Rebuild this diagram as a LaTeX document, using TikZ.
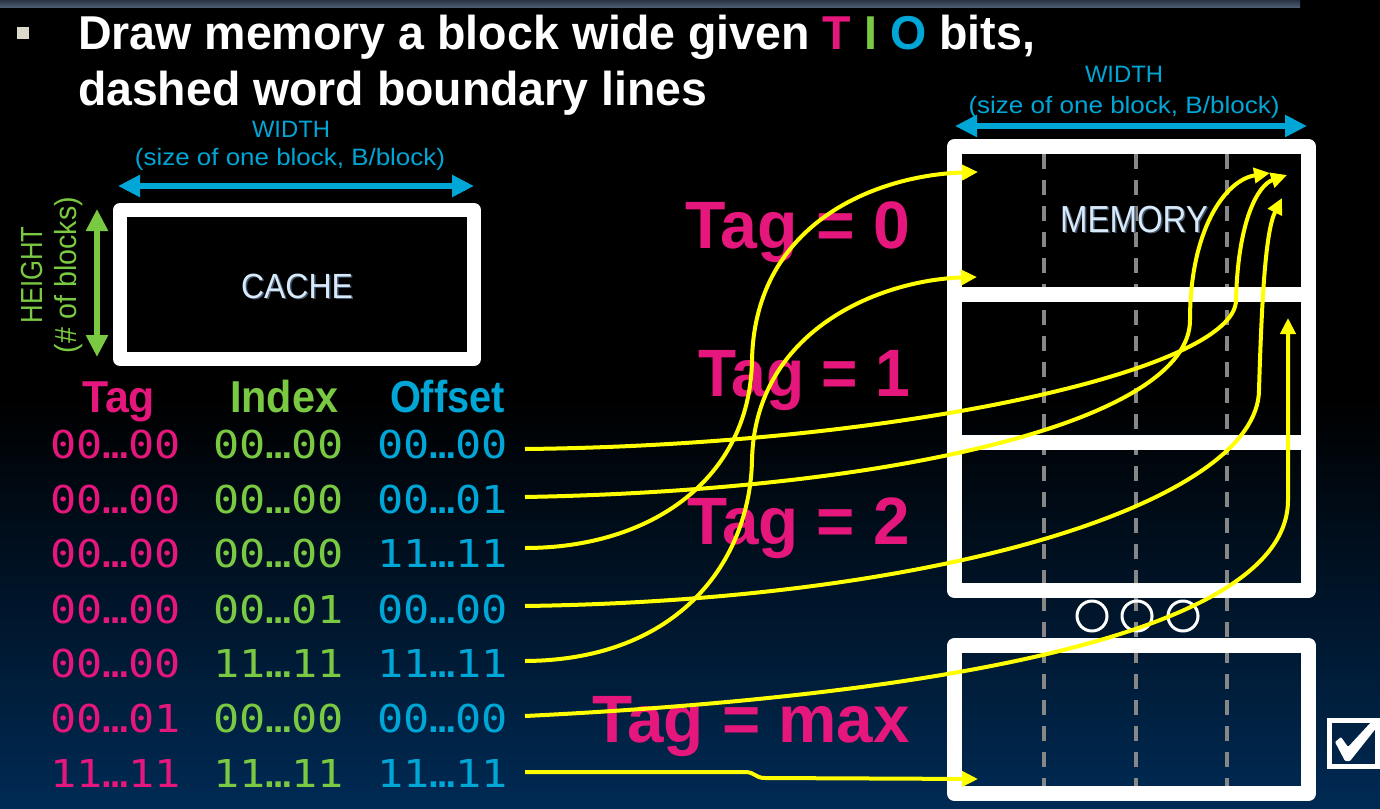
\documentclass[tikz,border=0pt]{standalone}
\usepackage{graphicx}
\usepackage{fontspec}
\setmainfont{Liberation Sans}
\newfontfamily\bitsfont{DejaVu Sans Mono}
\usetikzlibrary{arrows.meta}

\definecolor{tagpink}{RGB}{230,23,124}
\definecolor{idxgreen}{RGB}{122,201,67}
\definecolor{offcyan}{RGB}{0,166,214}
\definecolor{wire}{RGB}{255,255,0}
\definecolor{labelblue}{RGB}{214,234,252}
\definecolor{labelshadow}{RGB}{70,85,105}
\definecolor{navy}{RGB}{0,42,84}
\definecolor{dashgray}{RGB}{135,135,135}
\definecolor{bulletgray}{RGB}{221,216,204}
\definecolor{stripdark}{RGB}{40,50,66}
\definecolor{striplight}{RGB}{82,96,120}

% stretch a text to a given width (in pt), keeping its natural height
\newcommand\fitto[2]{\resizebox{#1pt}{\height}{#2}}
\newcommand\fs[1]{\fontsize{#1}{#1}\selectfont}

\tikzset{
  txt/.style={inner sep=0pt, outer sep=0pt},
  titletext/.style={txt, anchor=base west, text=white, font=\fs{47.5}\bfseries},
  dimlabel/.style={txt, anchor=base, text=offcyan, font=\fs{23.7}},
  hlabel/.style={txt, anchor=base, rotate=90, text=idxgreen, font=\fs{30.5}},
  fieldhead/.style={txt, anchor=base west, font=\fs{44.7}\bfseries},
  bits/.style={txt, anchor=base west, font=\bitsfont\fs{38.4}},
  tagname/.style={txt, anchor=base east, text=tagpink, font=\fs{67}\bfseries},
  boxlabel/.style={txt, anchor=base, text=labelblue},
  boxshadow/.style={txt, anchor=base, text=labelshadow},
  cachebox/.style={draw=white, line width=14pt, line join=round,
    minimum width=354pt, minimum height=149pt, inner sep=0pt},
  memblock/.style={draw=white, line width=15pt, line join=round,
    minimum width=354pt, minimum height=148pt, inner sep=0pt},
  wordline/.style={draw=dashgray, line width=3.5pt, dash pattern=on 15pt off 11pt},
  dimarrow/.style={draw=offcyan, line width=6pt,
    {Triangle[length=22pt,width=21pt]}-{Triangle[length=22pt,width=21pt]}},
  hgtarrow/.style={draw=idxgreen, line width=5.5pt,
    {Triangle[length=22pt,width=21pt]}-{Triangle[length=22pt,width=21pt]}},
  addr/.style={draw=wire, line width=4pt, -{Triangle[length=16pt,width=15pt]}},
  moredot/.style={circle, draw=white, line width=3pt, minimum size=30pt, inner sep=0pt},
}

\begin{document}
\begin{tikzpicture}[x=1pt, y=-1pt]
\useasboundingbox (0,0) rectangle (1380,808);

% background
\fill[black] (0,0) rectangle (1380,808);
\shade[top color=black, bottom color=navy] (0,400) rectangle (1380,808);
\shade[top color=stripdark, bottom color=striplight] (0,0) rectangle (1300,8);

% title
\node[fill=bulletgray, minimum size=12pt, inner sep=0pt] (bullet) at (23,33) {};
\node[titletext] (title1) at (78,50) {\fitto{957}{Draw memory a block wide given
  \textcolor{tagpink}{T} \textcolor{idxgreen}{I} \textcolor{offcyan}{O} bits,}};
\node[titletext] (title2) at (78,105) {\fitto{629}{dashed word boundary lines}};

% ---------------- cache ----------------
\node[dimlabel] (cwidth) at (291,137) {\fitto{78}{WIDTH}};
\node[dimlabel] (cwidthsub) at (290,165) {\fitto{310}{(size of one block, B/block)}};
\coordinate (cwl) at (118,186);
\coordinate (cwr) at (474,186);
\draw[dimarrow] (cwl) -- (cwr);

\node[hlabel] (height) at (42,275) {\fitto{97}{HEIGHT}};
\node[hlabel] (heightsub) at (76,275) {\fitto{156}{(\# of blocks)}};
\coordinate (cht) at (97,209);
\coordinate (chb) at (97,357);
\draw[hgtarrow] (cht) -- (chb);

\node[cachebox] (cache) at (297,284.5) {};
\node[boxshadow, font=\fs{35}] at (298.5,299.5) {\fitto{112}{CACHE}};
\node[boxlabel, font=\fs{35}] (cachelabel) at (297,298) {\fitto{112}{CACHE}};

% field headings
\node[fieldhead, text=tagpink] (htag) at (82,412) {\fitto{73}{Tag}};
\node[fieldhead, text=idxgreen] (hidx) at (230,412) {\fitto{108}{Index}};
\node[fieldhead, text=offcyan] (hoff) at (390,412) {\fitto{115}{Offset}};

% addresses
\foreach \i/\b/\t/\x/\o in {1/458/00…00/00…00/00…00,
                            2/513/00…00/00…00/00…01,
                            3/567/00…00/00…00/11…11,
                            4/623/00…00/00…01/00…00,
                            5/677/00…00/11…11/11…11,
                            6/732/00…01/00…00/00…00,
                            7/787/11…11/11…11/11…11}{
  \node[bits, text=tagpink] (t\i) at (50,\b) {\fitto{131}{\t}};
  \node[bits, text=idxgreen] (x\i) at (213,\b) {\fitto{131}{\x}};
  \node[bits, text=offcyan] (o\i) at (377,\b) {\fitto{131}{\o}};
}

% ---------------- memory ----------------
\node[dimlabel] (mwidth) at (1124,82) {\fitto{78}{WIDTH}};
\node[dimlabel] (mwidthsub) at (1124,113) {\fitto{311}{(size of one block, B/block)}};
\coordinate (mwl) at (955,126);
\coordinate (mwr) at (1307,126);
\draw[dimarrow] (mwl) -- (mwr);

% word boundaries
\foreach \wx in {1044,1136,1227}
  \draw[wordline] (\wx,154) -- (\wx,788);

\node[memblock] (memA) at (1131.5,220.5) {};
\node[memblock] (memB) at (1131.5,368.5) {};
\node[memblock] (memC) at (1131.5,516.5) {};
\node[memblock] (memD) at (1131.5,719.5) {};

\node[boxshadow, font=\fs{37.7}] at (1135.5,233.5) {\fitto{148}{MEMORY}};
\node[boxlabel, font=\fs{37.7}] (memlabel) at (1134,232) {\fitto{148}{MEMORY}};

\node[moredot] (dot1) at (1092,616) {};
\node[moredot] (dot2) at (1137,616) {};
\node[moredot] (dot3) at (1183,616) {};

% tag regions
\node[tagname] (tag0) at (910,248) {\fitto{225}{Tag = 0}};
\node[tagname] (tag1) at (910,396) {\fitto{212}{Tag = 1}};
\node[tagname] (tag2) at (910,544) {\fitto{223}{Tag = 2}};
\node[tagname] (tagmax) at (910,742) {\fitto{318}{Tag = max}};

% check box
\node[draw=white, line width=5pt, minimum width=48pt, minimum height=46pt, inner sep=0pt]
  (check) at (1353.5,743.5) {};
\fill[white, rounded corners=1pt] (1335,742) -- (1341,737) -- (1348,747) -- (1373,720)
  -- (1381,722) -- (1350,761) -- (1345,761) -- cycle;

% address arrows
\coordinate (s1) at (525,449);
\coordinate (s2) at (525,497);
\coordinate (s3) at (525,548);
\coordinate (s4) at (525,606);
\coordinate (s5) at (525,661);
\coordinate (s6) at (525,716);
\coordinate (s7) at (525,772);
\coordinate (e1) at (1287,175);
\coordinate (e2) at (1270,173);
\coordinate (e3) at (978,172);
\coordinate (e4) at (1282,198);
\coordinate (e5) at (977,277);
\coordinate (e6) at (1288,318);
\coordinate (e7) at (978,779);

\draw[addr] (s1) .. controls (900,445) and (1236,370) .. (1236,300)
                 .. controls (1238,220) and (1258,185) .. (e1);
\draw[addr] (s2) .. controls (900,490) and (1190,420) .. (1190,320)
                 .. controls (1190,230) and (1225,180) .. (e2);
\draw[addr] (s3) .. controls (650,548) and (750,480) .. (752,360)
                 .. controls (755,220) and (880,175) .. (e3);
\draw[addr] (s4) .. controls (950,600) and (1258,500) .. (1259,390)
                 .. controls (1262,290) and (1266,230) .. (e4);
\draw[addr] (s5) .. controls (680,660) and (750,560) .. (752,460)
                 .. controls (755,330) and (880,280) .. (e5);
\draw[addr] (s6) .. controls (850,700) and (1288,650) .. (1288,500) -- (e6);
\draw[addr] (s7) -- (745,772) .. controls (755,772) and (755,778) .. (765,778) -- (e7);

\end{tikzpicture}
\end{document}
